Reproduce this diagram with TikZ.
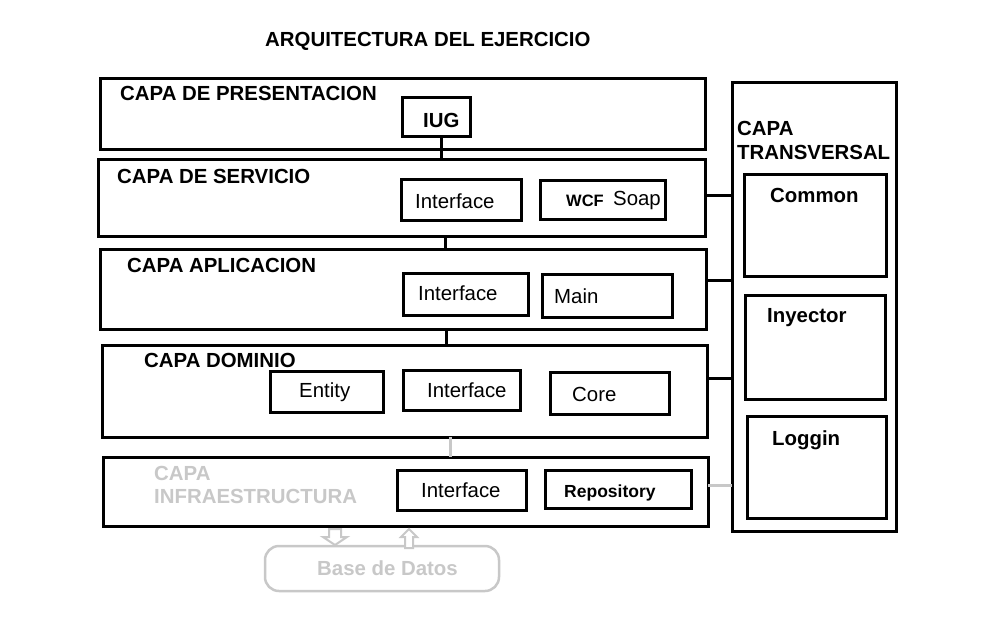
\documentclass[tikz,border=0pt]{standalone}
\usepackage{fontspec}
\setmainfont{Liberation Sans}
\definecolor{faintgray}{RGB}{200,200,200}
\begin{document}
\begin{tikzpicture}[x=1pt,y=-1pt,
  box/.style={draw, line width=3pt, inner sep=0pt, outer sep=0pt},
  lbl/.style={anchor=base west, inner sep=0pt, font=\fontsize{20.4}{23}\selectfont\bfseries},
  txt/.style={anchor=base west, inner sep=0pt, font=\fontsize{20.4}{23}\selectfont},
  conn/.style={line width=3pt},
  faint/.style={draw=faintgray},
  blockarrow/.style={draw=faintgray, line width=2pt, fill=white, line join=miter}]
\useasboundingbox[fill=white] (0,0) rectangle (994,638);

% layers
\node[box, minimum width=605pt, minimum height=71pt] (pres) at (402.5,113.5) {};
\node[box, minimum width=607pt, minimum height=77pt] (serv) at (401.5,197.5) {};
\node[box, minimum width=606pt, minimum height=80pt] (app) at (403,289) {};
\node[box, minimum width=605pt, minimum height=92pt] (dom) at (404.5,391) {};
\node[box, minimum width=605pt, minimum height=69pt] (infra) at (405.5,491.5) {};
\node[box, minimum width=164pt, minimum height=449pt] (trans) at (814,306.5) {};

% transversal boxes
\node[box, minimum width=142pt, minimum height=102pt] (common) at (815,225) {};
\node[box, minimum width=140pt, minimum height=104pt] (iny) at (815,347) {};
\node[box, minimum width=139pt, minimum height=102pt] (log) at (816.5,467) {};

% inner boxes
\node[box, minimum width=68pt, minimum height=39pt] (iug) at (436,116.5) {};
\node[box, minimum width=120pt, minimum height=41pt] (sint) at (461,199.5) {};
\node[box, minimum width=125pt, minimum height=39pt] (swcf) at (602.5,199.5) {};
\node[box, minimum width=125pt, minimum height=42pt] (aint) at (465.5,294) {};
\node[box, minimum width=130pt, minimum height=43pt] (amain) at (607,295.5) {};
\node[box, minimum width=113pt, minimum height=41pt] (dent) at (326.5,391.5) {};
\node[box, minimum width=117pt, minimum height=40pt] (dint) at (461.5,390) {};
\node[box, minimum width=119pt, minimum height=42pt] (dcore) at (609.5,393) {};
\node[box, minimum width=129pt, minimum height=40pt] (iint) at (461.5,490) {};
\node[box, minimum width=146pt, minimum height=38pt] (irep) at (618,489) {};

% data base
\node[draw=faintgray, line width=2.5pt, rounded corners=14pt, minimum width=234pt, minimum height=45pt, inner sep=0pt] (db) at (382,568.5) {};

% vertical connectors
\draw[conn] ([xshift=5pt]iug.south) -- ([xshift=5pt]iug.south |- serv.north);
\draw[conn] ([xshift=43.5pt]serv.south) -- ([xshift=43.5pt]serv.south |- app.north);
\draw[conn] ([xshift=43pt]app.south) -- ([xshift=43pt]app.south |- dom.north);
\draw[conn, faintgray] ([xshift=45.5pt]dom.south) -- ([xshift=45.5pt]dom.south |- infra.north);

% horizontal connectors to transversal layer
\draw[conn] ([yshift=2.5pt]serv.east) -- ([yshift=2.5pt]serv.east -| trans.west);
\draw[conn] ([yshift=9pt]app.east) -- ([yshift=9pt]app.east -| trans.west);
\draw[conn] ([yshift=13pt]dom.east) -- ([yshift=13pt]dom.east -| trans.west);
\draw[conn, faintgray] ([yshift=6.5pt]infra.east) -- ([yshift=6.5pt]infra.east -| trans.west);

% block arrows between infrastructure and data base
\draw[blockarrow] (329,529) -- (341,529) -- (341,537) -- (347,537) -- (335,545) -- (323,537) -- (329,537) -- cycle;
\draw[blockarrow] (409,529) -- (417,537) -- (413,537) -- (413,548) -- (405,548) -- (405,537) -- (401,537) -- cycle;

% labels
\node[lbl] (title) at (265,46) {ARQUITECTURA DEL EJERCICIO};
\node[lbl] (presl) at (120,100) {CAPA DE PRESENTACION};
\node[lbl] (servl) at (117,183) {CAPA DE SERVICIO};
\node[lbl] (appl) at (127,272) {CAPA APLICACION};
\node[lbl] (doml) at (144,367) {CAPA DOMINIO};
\node[lbl, text=faintgray] (infral1) at (154,480) {CAPA};
\node[lbl, text=faintgray] (infral2) at (154,503) {INFRAESTRUCTURA};
\node[lbl] (transl1) at (737,135) {CAPA};
\node[lbl] (transl2) at (737,159) {TRANSVERSAL};
\node[lbl] (commonl) at (770,202) {Common};
\node[lbl] (inyl) at (767,322) {Inyector};
\node[lbl] (logl) at (772,445) {Loggin};

\node[lbl] (iugl) at (423,127) {IUG};
\node[txt] (sintl) at (415,208) {Interface};
\node[lbl, font=\fontsize{16.5}{19}\selectfont\bfseries] (wcfl) at (566,206) {WCF};
\node[txt] (soapl) at (613,205) {Soap};
\node[txt] (aintl) at (418,300) {Interface};
\node[txt] (mainl) at (554,303) {Main};
\node[txt] (dentl) at (299,397) {Entity};
\node[txt] (dintl) at (427,397) {Interface};
\node[txt] (dcorel) at (572,401) {Core};
\node[txt] (iintl) at (421,497) {Interface};
\node[lbl, font=\fontsize{17.5}{20}\selectfont\bfseries] (irepl) at (564,497) {Repository};
\node[lbl, text=faintgray] (dbl) at (317,575) {Base de Datos};
\end{tikzpicture}
\end{document}
